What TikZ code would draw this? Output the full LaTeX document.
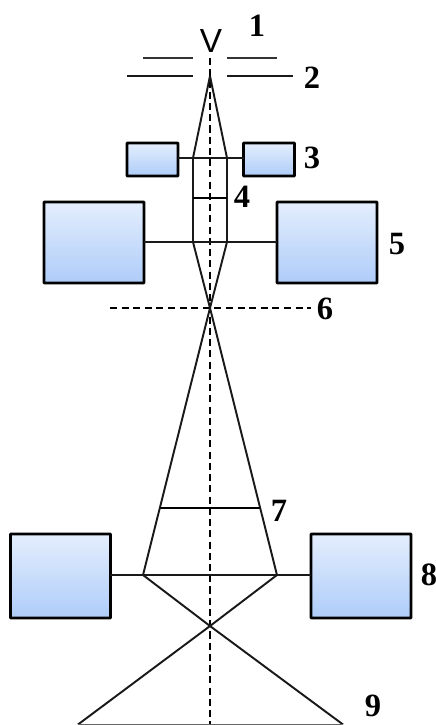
\documentclass[tikz,border=0pt]{standalone}
\usepackage{fontspec}
\setmainfont{Liberation Serif}
\newfontfamily\vfont{Liberation Sans}
\definecolor{boxtop}{HTML}{E4EEFD}
\definecolor{boxbot}{HTML}{AECCF9}
\tikzset{
  lensbox/.style={draw=black,line width=1.6pt,rounded corners=0.3pt,top color=boxtop,bottom color=boxbot,inner sep=0pt,outer sep=0pt},
  smallbox/.style={lensbox,minimum width=1.02cm,minimum height=0.66cm},
  midbox/.style={lensbox,minimum width=2.0cm,minimum height=1.62cm},
  bigbox/.style={lensbox,minimum width=2.0cm,minimum height=1.68cm},
  beam/.style={line width=1.1pt,black!90},
  numlabel/.style={font=\fontsize{18.5}{20}\selectfont\bfseries,inner sep=0pt},
}
\begin{document}
\begin{tikzpicture}[x=0.02cm,y=-0.02cm]
  \useasboundingbox (0,0) rectangle (436,725);
  % points of the beam
  \coordinate (axtop) at (210,58);
  \coordinate (axbot) at (210,725);
  \coordinate (apex) at (210,76);
  \coordinate (c3l) at (193,158);
  \coordinate (c3r) at (227,158);
  \coordinate (c4l) at (193,198);
  \coordinate (c4r) at (227,198);
  \coordinate (c5l) at (193,242);
  \coordinate (c5r) at (227,242);
  \coordinate (xone) at (210,308);
  \coordinate (c7l) at (160,508);
  \coordinate (c7r) at (260,508);
  \coordinate (c8l) at (143,575);
  \coordinate (c8r) at (277,575);
  \coordinate (xtwo) at (210,626);
  \coordinate (c9l) at (78,724.5);
  \coordinate (c9r) at (343,724.5);
  % apertures
  \coordinate (a1a) at (143,58);
  \coordinate (a1b) at (193,58);
  \coordinate (a1c) at (227,58);
  \coordinate (a1d) at (277,58);
  \coordinate (a2a) at (127,76);
  \coordinate (a2b) at (193,76);
  \coordinate (a2c) at (227,76);
  \coordinate (a2d) at (293,76);
  \coordinate (h6a) at (110,308);
  \coordinate (h6b) at (311,308);
  % lens boxes
  \node[smallbox] (b3l) at (152.5,159.5) {};
  \node[smallbox] (b3r) at (269,159.5) {};
  \node[midbox] (b5l) at (94,242.5) {};
  \node[midbox] (b5r) at (327,242.5) {};
  \node[bigbox] (b8l) at (60.5,576) {};
  \node[bigbox] (b8r) at (361,576) {};
  % axis
  \draw[line width=1pt,dash pattern=on 4pt off 2.4pt] (axtop) -- (axbot);
  \draw[line width=1pt,dash pattern=on 4pt off 2.6pt] (h6a) -- (h6b);
  % apertures
  \draw[line width=0.8pt,black!80] (a1a) -- (a1b);
  \draw[line width=0.8pt,black!80] (a1c) -- (a1d);
  \draw[beam] (a2a) -- (a2b);
  \draw[beam] (a2c) -- (a2d);
  % beam
  \draw[beam] (apex) -- (c3l) -- (c5l) -- (xone) -- (c8r) -- (xtwo) -- (c9l);
  \draw[beam] (apex) -- (c3r) -- (c5r) -- (xone) -- (c8l) -- (xtwo) -- (c9r);
  \draw[beam] (b3l.east |- c3l) -- (b3r.west |- c3r);
  \draw[line width=0.8pt] (c4l) -- (c4r);
  \draw[beam] (b5l.east |- c5l) -- (b5r.west |- c5r);
  \draw[line width=0.8pt] (c7l) -- (c7r);
  \draw[beam] (b8l.east |- c8l) -- (b8r.west |- c8r);
  \draw[line width=0.8pt,black!60] (c9l) -- (c9r);
  % labels
  \node[font=\vfont\fontsize{19}{20}\selectfont,inner sep=0pt] (v) at (211,41) {V};
  \node[numlabel] (l1) at (257,26) {1};
  \node[numlabel] (l2) at (312,78) {2};
  \node[numlabel] (l3) at (312,158) {3};
  \node[numlabel] (l4) at (242,197) {4};
  \node[numlabel] (l5) at (397,244) {5};
  \node[numlabel] (l6) at (325,309) {6};
  \node[numlabel] (l7) at (279,511) {7};
  \node[numlabel] (l8) at (429,575) {8};
  \node[numlabel] (l9) at (373,706) {9};
\end{tikzpicture}
\end{document}
